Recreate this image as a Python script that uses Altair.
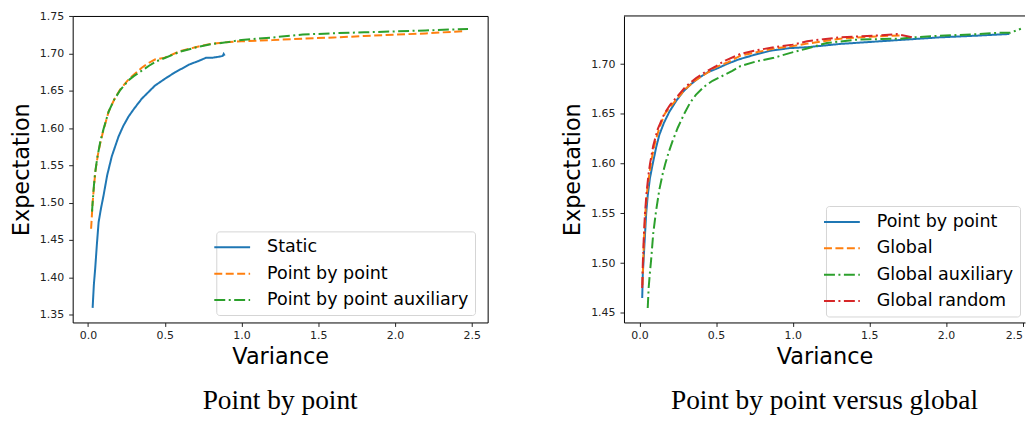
import altair as alt
import pandas as pd

# ---------------- Left panel: "Point by point" ----------------
static_x = [0.030, 0.038, 0.047, 0.058, 0.069, 0.085, 0.101, 0.125, 0.155, 0.199, 0.230, 0.263, 0.300,
            0.350, 0.436, 0.500, 0.566, 0.663, 0.720, 0.771, 0.814, 0.860, 0.878, 0.884, 0.890]
static_y = [1.359, 1.390, 1.4125, 1.445, 1.474, 1.493, 1.5095, 1.537, 1.5623, 1.5888, 1.603, 1.6152, 1.626,
            1.6394, 1.657, 1.666, 1.6747, 1.6856, 1.690, 1.6945, 1.6945, 1.696, 1.6968, 1.6995, 1.6972]

pbp_x = [0.020, 0.030, 0.040, 0.050, 0.065, 0.080, 0.100, 0.134, 0.170, 0.210, 0.263, 0.300, 0.350,
         0.400, 0.436, 0.500, 0.600, 0.700, 0.800, 0.900, 1.000, 1.200, 1.400, 1.600, 1.800, 2.000,
         2.200, 2.440]
pbp_y = [1.465, 1.500, 1.525, 1.545, 1.565, 1.580, 1.597, 1.622, 1.638, 1.652, 1.665, 1.672, 1.681,
         1.688, 1.692, 1.6945, 1.7032, 1.7085, 1.713, 1.7151, 1.7164, 1.718, 1.720, 1.7215, 1.7235,
         1.7253, 1.727, 1.730]

pbpa_x = [0.026, 0.035, 0.045, 0.060, 0.080, 0.100, 0.134, 0.170, 0.210, 0.263, 0.300, 0.350, 0.400,
          0.450, 0.500, 0.600, 0.700, 0.800, 0.900, 1.000, 1.200, 1.400, 1.600, 1.800, 2.000, 2.200,
          2.476]
pbpa_y = [1.488, 1.515, 1.538, 1.560, 1.582, 1.598, 1.622, 1.638, 1.651, 1.664, 1.670, 1.677, 1.684,
          1.690, 1.694, 1.7025, 1.708, 1.7125, 1.715, 1.7183, 1.7215, 1.7255, 1.7272, 1.7285, 1.7297,
          1.731, 1.733]

left_names = ["Static", "Point by point", "Point by point auxiliary"]
left_series = [(static_x, static_y), (pbp_x, pbp_y), (pbpa_x, pbpa_y)]

# ---------------- Right panel: "Point by point versus global" ----------------
rp_x = [0.018, 0.022, 0.026, 0.033, 0.044, 0.054, 0.068, 0.087, 0.110, 0.130, 0.160, 0.195, 0.240,
        0.282, 0.330, 0.390, 0.450, 0.519, 0.570, 0.649, 0.758, 0.860, 0.980, 1.094, 1.310, 1.634,
        1.958, 2.200, 2.414]
rp_y = [1.465, 1.490, 1.500, 1.520, 1.550, 1.568, 1.585, 1.600, 1.617, 1.629, 1.641, 1.652, 1.663,
        1.6717, 1.679, 1.6865, 1.692, 1.6964, 1.700, 1.7047, 1.7096, 1.7135, 1.716, 1.7169, 1.7202,
        1.7235, 1.7268, 1.7285, 1.7302]

gl_x = [0.020, 0.024, 0.030, 0.040, 0.050, 0.065, 0.080, 0.100, 0.130, 0.165, 0.200, 0.250, 0.300,
        0.360, 0.430, 0.500, 0.580, 0.660, 0.770, 0.877, 1.000, 1.094, 1.200, 1.310, 1.450, 1.600,
        1.720]
gl_y = [1.478, 1.500, 1.525, 1.553, 1.572, 1.590, 1.605, 1.620, 1.636, 1.650, 1.657, 1.666, 1.675,
        1.683, 1.690, 1.697, 1.702, 1.7085, 1.712, 1.7155, 1.718, 1.7205, 1.723, 1.7255, 1.727, 1.7282,
        1.7288]

ga_x = [0.054, 0.060, 0.068, 0.076, 0.090, 0.108, 0.130, 0.152, 0.169, 0.190, 0.217, 0.250, 0.292,
        0.330, 0.368, 0.420, 0.477, 0.540, 0.606, 0.660, 0.758, 0.877, 0.980, 1.094, 1.223, 1.418,
        1.703, 1.786, 1.958, 2.200, 2.350, 2.420, 2.489]
ga_y = [1.455, 1.475, 1.490, 1.503, 1.530, 1.552, 1.574, 1.590, 1.600, 1.611, 1.623, 1.636, 1.650,
        1.661, 1.669, 1.677, 1.6832, 1.688, 1.6931, 1.698, 1.7025, 1.7063, 1.711, 1.7156, 1.7212,
        1.7245, 1.7255, 1.7268, 1.7284, 1.730, 1.7315, 1.7315, 1.7354]

gr_x = [0.018, 0.022, 0.028, 0.036, 0.046, 0.058, 0.069, 0.090, 0.120, 0.162, 0.200, 0.250, 0.300,
        0.370, 0.430, 0.500, 0.560, 0.660, 0.770, 0.877, 1.000, 1.094, 1.200, 1.310, 1.526, 1.678,
        1.786]
gr_y = [1.475, 1.500, 1.525, 1.550, 1.570, 1.588, 1.600, 1.618, 1.635, 1.650, 1.659, 1.668, 1.677,
        1.686, 1.692, 1.698, 1.7035, 1.7103, 1.714, 1.7169, 1.7195, 1.7228, 1.725, 1.7268, 1.7284,
        1.7301, 1.7268]

right_names = ["Point by point", "Global", "Global auxiliary", "Global random"]
right_series = [(rp_x, rp_y), (gl_x, gl_y), (ga_x, ga_y), (gr_x, gr_y)]

x_ticks = [0.0, 0.5, 1.0, 1.5, 2.0, 2.5]
left_y_ticks = [1.35, 1.40, 1.45, 1.50, 1.55, 1.60, 1.65, 1.70, 1.75]
right_y_ticks = [1.45, 1.50, 1.55, 1.60, 1.65, 1.70]

BLUE, ORANGE, GREEN, RED = "#1f77b4", "#ff7f0e", "#2ca02c", "#d62728"
SOLID, DASHED, DASHDOT = [1, 0], [8, 3.5], [11, 3.5, 2, 3.5]

PLOT_H = 308


def make_df(names, series):
    rows = []
    for name, (xs, ys) in zip(names, series):
        for i, (x, y) in enumerate(zip(xs, ys)):
            rows.append({"series": name, "variance": x, "expectation": y, "idx": i})
    return pd.DataFrame(rows)


def caption(text):
    return alt.TitleParams(text, orient="bottom", anchor="middle", frame="group",
                           font="Liberation Serif", fontSize=27.5, fontWeight="normal",
                           color="black", baseline="top", offset=19)


def lines_chart(names, series, colors, dashes, xdom, ydom, yticks, lx, ly, frame_axes):
    df = make_df(names, series)
    leg = alt.Legend(title=None, orient="none", legendX=lx, legendY=ly)
    ax_extra = {}
    if frame_axes:
        ax_extra = dict(domain=True, domainColor="black", domainWidth=1)
    xaxis = alt.Axis(values=x_ticks, format=".1f", title="Variance",
                     labelFlush=5 if frame_axes else False, **ax_extra)
    yaxis = alt.Axis(values=yticks, format=".2f", title="Expectation", **ax_extra)
    return alt.Chart(df).mark_line(strokeWidth=2, clip=True).encode(
        x=alt.X("variance:Q", scale=alt.Scale(domain=xdom, nice=False, zero=False), axis=xaxis),
        y=alt.Y("expectation:Q", scale=alt.Scale(domain=ydom, nice=False, zero=False), axis=yaxis),
        color=alt.Color("series:N", scale=alt.Scale(domain=names, range=colors), legend=leg),
        strokeDash=alt.StrokeDash("series:N", scale=alt.Scale(domain=names, range=dashes), legend=leg),
        order=alt.Order("idx:Q"),
    )


LEFT_W = 417
left = lines_chart(left_names, left_series, [BLUE, ORANGE, GREEN], [SOLID, DASHED, DASHDOT],
                   [-0.1, 2.604], [1.3394, 1.7504], left_y_ticks, 144.3, 216.5, False
                   ).properties(width=LEFT_W, height=PLOT_H, title=caption("Point by point"))

RIGHT_W = 403
right_lines = lines_chart(right_names, right_series, [BLUE, ORANGE, GREEN, RED],
                          [SOLID, DASHED, DASHDOT, DASHDOT],
                          [-0.101, -0.101 + RIGHT_W / 154.0], [1.4404, 1.7483], right_y_ticks,
                          203, 191, True)
top_border = alt.Chart(pd.DataFrame({"k": [0]})).mark_rule(color="black", strokeWidth=1).encode(
    x=alt.value(0), x2=alt.value(RIGHT_W), y=alt.value(0)
)
right = alt.layer(right_lines, top_border).properties(
    width=RIGHT_W, height=PLOT_H, title=caption("Point by point versus global"),
    view=alt.ViewBackground(strokeOpacity=0),
)

chart = alt.hconcat(left, right, spacing=73).resolve_scale(
    color="independent", strokeDash="independent"
).resolve_legend(
    color="independent", strokeDash="independent"
).properties(
    padding={"left": 2, "top": 0, "right": 0, "bottom": 0}
).configure_view(
    stroke="black", strokeWidth=1
).configure_axis(
    grid=False, domain=False,
    labelFont="DejaVu Sans", labelFontSize=11, labelColor="#222",
    tickColor="#222", tickSize=4, tickWidth=1,
    titleFont="DejaVu Sans", titleFontSize=22.5, titleFontWeight="normal", titleColor="black",
).configure_axisX(
    labelPadding=3, titlePadding=5,
).configure_axisY(
    labelPadding=5, titlePadding=6,
).configure_legend(
    labelFont="DejaVu Sans", labelFontSize=17.6, labelColor="black", labelLimit=400,
    symbolType="M-2,0L2,0", symbolSize=324, symbolStrokeWidth=2,
    labelOffset=25, rowPadding=7.5, padding=6,
    fillColor="white", strokeColor="#d5d5d5", cornerRadius=3,
)

chart.save("out.html", embed_options={"renderer": "svg", "actions": False})
